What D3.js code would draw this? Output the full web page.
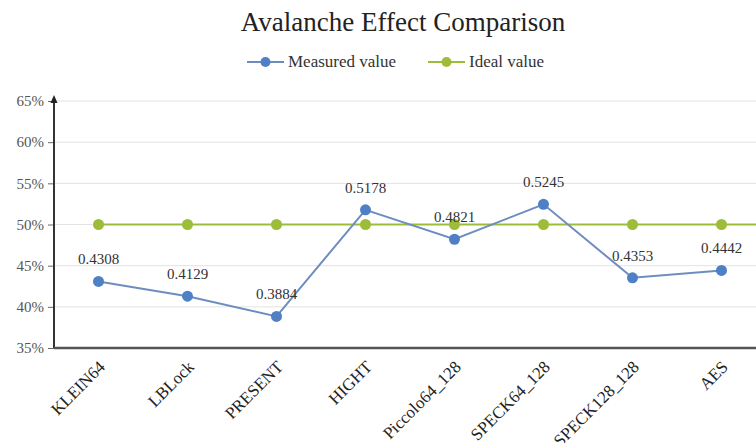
<!DOCTYPE html>
<html>
<head>
<meta charset="utf-8">
<script src="https://cdn.jsdelivr.net/npm/d3@7"></script>
<style>
  html, body { margin: 0; padding: 0; background: #fff; }
  svg { display: block; }
  svg text { font-family: "Liberation Serif", "DejaVu Serif", serif; }
</style>
</head>
<body>
<svg id="chart" width="756" height="443"></svg>
<script>
// Avalanche effect of lightweight block ciphers
const categories = ["KLEIN64", "LBLock", "PRESENT", "HIGHT", "Piccolo64_128", "SPECK64_128", "SPECK128_128", "AES"];
const measured = [0.4308, 0.4129, 0.3884, 0.5178, 0.4821, 0.5245, 0.4353, 0.4442];
const ideal = [0.5, 0.5, 0.5, 0.5, 0.5, 0.5, 0.5, 0.5];
const yTicks = [0.35, 0.40, 0.45, 0.50, 0.55, 0.60, 0.65];
const seriesNames = ["Measured value", "Ideal value"];

const blue = "#4f7fc4", blueLine = "#6e8dbf", green = "#9dbd3a";

const svg = d3.select("#chart");
const m = { left: 54, right: -10, top: 101, bottom: 95 };
const W = 756, H = 443;

const x = d3.scalePoint().domain(categories).range([m.left, W - m.right]).padding(0.5);
const y = d3.scaleLinear().domain([0.35, 0.65]).range([H - m.bottom, m.top]);

// title
svg.append("text").attr("x", 403).attr("y", 31).attr("text-anchor", "middle")
  .style("font-size", "27px").attr("fill", "#222").text("Avalanche Effect Comparison");

// legend
const legend = [
  { name: seriesNames[0], color: blue, line: blueLine, x0: 247 },
  { name: seriesNames[1], color: green, line: green, x0: 428 }
];
legend.forEach(d => {
  const g = svg.append("g").attr("transform", `translate(${d.x0},62)`);
  g.append("line").attr("x1", 0).attr("x2", 37).attr("stroke", d.line).attr("stroke-width", 2);
  g.append("circle").attr("cx", 18.5).attr("r", 5).attr("fill", d.color);
  g.append("text").attr("x", 41).attr("y", 5).style("font-size", "17px").attr("fill", "#333").text(d.name);
});

// gridlines
svg.append("g").selectAll("line").data(yTicks).join("line")
  .attr("x1", m.left).attr("x2", W)
  .attr("y1", d => y(d)).attr("y2", d => y(d))
  .attr("stroke", "#e3e3e3").attr("stroke-width", 1);

// y axis
const yAxis = svg.append("g").attr("transform", `translate(${m.left},0)`)
  .call(d3.axisLeft(y).tickValues(yTicks).tickFormat(d3.format(".0%")).tickSize(6).tickPadding(4));
yAxis.select(".domain").remove();
yAxis.selectAll(".tick line").attr("stroke", "#666");
yAxis.selectAll(".tick text").style("font-family", "'Liberation Serif', serif").style("font-size", "15px").attr("fill", "#555");
svg.append("line").attr("x1", m.left).attr("x2", m.left).attr("y1", y(0.35)).attr("y2", y(0.65) - 2)
  .attr("stroke", "#333").attr("stroke-width", 2);
svg.append("path")
  .attr("d", `M${m.left},${y(0.65) - 6}l-3.5,8h7z`).attr("fill", "#222");

// x axis
const xAxis = svg.append("g").attr("transform", `translate(0,${y(0.35)})`)
  .call(d3.axisBottom(x).tickSize(0).tickPadding(0));
xAxis.select(".domain").remove();
svg.append("line").attr("x1", m.left).attr("x2", W).attr("y1", y(0.35)).attr("y2", y(0.35))
  .attr("stroke", "#555").attr("stroke-width", 2.5);
xAxis.selectAll(".tick text")
  .style("font-family", "'Liberation Serif', serif").style("font-size", "17px").attr("fill", "#222")
  .attr("text-anchor", "end").attr("dy", 0)
  .attr("transform", "translate(7,20) rotate(-45)");

// ideal line extends to the right edge of the plot
const idealPts = categories.map((c, i) => [x(c), y(ideal[i])]);
idealPts.push([W, y(ideal[ideal.length - 1])]);
svg.append("path").attr("d", d3.line()(idealPts))
  .attr("fill", "none").attr("stroke", green).attr("stroke-width", 2);
svg.append("g").selectAll("circle").data(ideal).join("circle")
  .attr("cx", (d, i) => x(categories[i])).attr("cy", d => y(d)).attr("r", 5.5).attr("fill", green);

// measured line
svg.append("path").attr("d", d3.line().x((d, i) => x(categories[i])).y(d => y(d))(measured))
  .attr("fill", "none").attr("stroke", blueLine).attr("stroke-width", 2);
svg.append("g").selectAll("circle").data(measured).join("circle")
  .attr("cx", (d, i) => x(categories[i])).attr("cy", d => y(d)).attr("r", 5.5).attr("fill", blue);

// value labels
svg.append("g").selectAll("text").data(measured).join("text")
  .attr("x", (d, i) => x(categories[i])).attr("y", d => y(d) - 17)
  .attr("text-anchor", "middle").style("font-size", "15px").attr("fill", "#333")
  .text(d => d3.format(".4f")(d));
</script>
</body>
</html>
